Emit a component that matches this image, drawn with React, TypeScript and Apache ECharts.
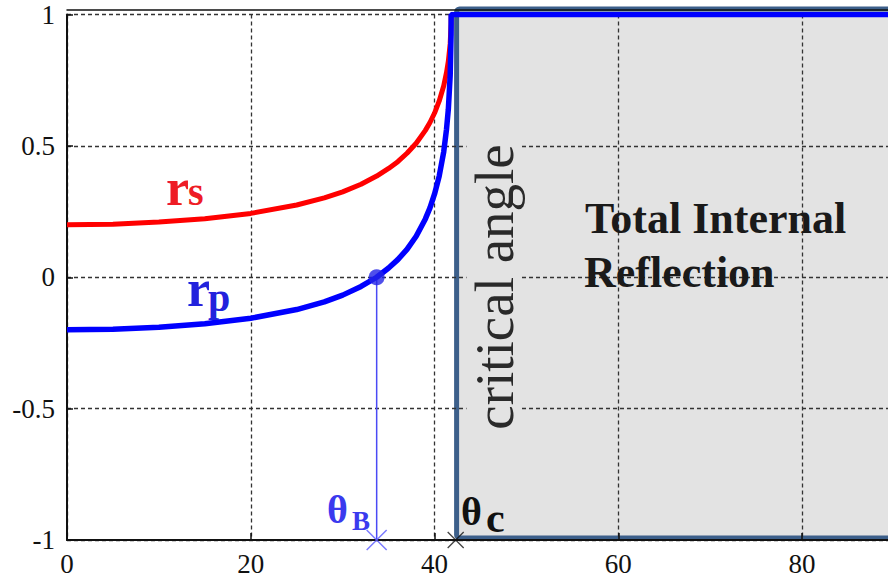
import React, { useEffect, useRef } from "react";
import * as echarts from "echarts";

// incidence angle (deg) sampled along the curves
const thetaVals = [0, 5, 10, 15, 20, 25, 28, 30, 32, 33.7, 35, 36, 37, 38, 39, 39.5, 40, 40.5, 41, 41.3, 41.5, 41.7, 41.8, 41.81];
const rsValues = [0.2, 0.202, 0.21, 0.223, 0.243, 0.275, 0.302, 0.325, 0.354, 0.385, 0.414, 0.44, 0.472, 0.51, 0.559, 0.589, 0.625, 0.67, 0.729, 0.779, 0.822, 0.889, 0.965, 1];
const rpValues = [-0.2, -0.198, -0.19, -0.177, -0.156, -0.123, -0.094, -0.068, -0.035, 0, 0.035, 0.067, 0.106, 0.156, 0.222, 0.264, 0.317, 0.384, 0.478, 0.563, 0.639, 0.767, 0.923, 1];
const rpTailTheta = [90];
const rpTailValues = [1];

const thetaB = 33.7;
const thetaCMark = 42.3;
const tirRegion = [42.4, 1.021, 91, -0.992]; // x0, yTop, x1, yBottom

const xMin = 0, xMax = 90, xInterval = 20;
const yMin = -1, yMax = 1, yInterval = 0.5;

const FONT = "Liberation Serif";

export default function App() {
  const ref = useRef<HTMLDivElement>(null);
  useEffect(() => {
    if (!ref.current) return;
    const chart = echarts.init(ref.current, undefined, { renderer: "svg" });
    const rsData = thetaVals.map((t, i) => [t, rsValues[i]]);
    const rpData = thetaVals.map((t, i) => [t, rpValues[i]]).concat(rpTailTheta.map((t, i) => [t, rpTailValues[i]]));
    const axisLabel = { fontFamily: FONT, fontSize: 27, color: "#111" };
    const option: any = {
      animation: false,
      backgroundColor: "#ffffff",
      grid: { left: 67, top: 14.5, width: 827, height: 525.5, containLabel: false, outerBoundsMode: "none" },
      xAxis: [
        {
          type: "value", min: xMin, max: xMax, interval: xInterval,
          axisLine: { show: true, onZero: false, lineStyle: { color: "#111", width: 2 } },
          axisTick: { show: true, inside: true, length: 7, lineStyle: { color: "#111", width: 1.5 } },
          axisLabel: { ...axisLabel, margin: 10, showMaxLabel: false },
          splitLine: { show: true, lineStyle: { color: "#333", width: 1.3, type: [4, 3] } },
        },
        {
          type: "value", min: xMin, max: xMax, position: "top", offset: 4.5,
          axisLine: { show: true, onZero: false, lineStyle: { color: "#111", width: 1.5 } },
          axisTick: { show: false }, axisLabel: { show: false }, splitLine: { show: false },
        },
      ],
      yAxis: {
        type: "value", min: yMin, max: yMax, interval: yInterval,
        axisLine: { show: true, onZero: false, lineStyle: { color: "#111", width: 2 } },
        axisTick: { show: true, inside: true, length: 6, lineStyle: { color: "#111", width: 1.5 } },
        axisLabel: { ...axisLabel, margin: 12 },
        splitLine: { show: true, lineStyle: { color: "#333", width: 1.3, type: [4, 3] } },
      },
      series: [
        {
          type: "custom",
          z: -1,
          clip: false,
          silent: true,
          renderItem: (params: any, api: any) => {
            const p1 = api.coord([api.value(0), api.value(1)]);
            const p2 = api.coord([api.value(2), api.value(3)]);
            return {
              type: "rect",
              shape: { x: p1[0], y: p1[1], width: p2[0] - p1[0], height: p2[1] - p1[1], r: 3 },
              style: { fill: "#e3e3e3", stroke: "#3c5f8a", lineWidth: 5 },
            };
          },
          data: [tirRegion],
        },
        {
          type: "line", data: [[thetaB, 0], [thetaB, yMin]], showSymbol: false,
          lineStyle: { color: "#4a4af5", width: 1.5 }, z: 3,
        },
        {
          type: "line", data: rsData, showSymbol: false, smooth: false,
          lineStyle: { color: "#ff0000", width: 5 }, z: 4,
        },
        {
          type: "line", data: rpData, showSymbol: false, smooth: false,
          lineStyle: { color: "#0000ff", width: 5.5 }, z: 5,
        },
        {
          type: "scatter", data: [[thetaB, 0]], symbol: "circle", symbolSize: 16,
          itemStyle: { color: "#2424e6" }, z: 6,
        },
        {
          type: "scatter", data: [[thetaB, yMin]], symbol: "path://M0,0L10,10M10,0L0,10", symbolSize: 20,
          itemStyle: { color: "none", borderColor: "#5a5aff", borderWidth: 1.5 }, z: 6,
        },
        {
          type: "scatter", data: [[thetaCMark, yMin]], symbol: "path://M0,0L10,10M10,0L0,10", symbolSize: 16,
          itemStyle: { color: "none", borderColor: "#111", borderWidth: 1.3 }, z: 1, clip: false,
        },
      ],
      graphic: [
        { type: "text", x: 166, y: 187, z: 20, style: { text: "r", fontFamily: FONT, fontSize: 52, fontWeight: "bold", fill: "#ee1c25", align: "left", verticalAlign: "middle" } },
        { type: "text", x: 188, y: 191, z: 20, style: { text: "s", fontFamily: FONT, fontSize: 40, fontWeight: "bold", fill: "#ee1c25", align: "left", verticalAlign: "middle" } },
        { type: "text", x: 187, y: 288, z: 20, style: { text: "r", fontFamily: FONT, fontSize: 52, fontWeight: "bold", fill: "#2222dd", align: "left", verticalAlign: "middle" } },
        { type: "text", x: 208, y: 297, z: 20, style: { text: "p", fontFamily: FONT, fontSize: 40, fontWeight: "bold", fill: "#2222dd", align: "left", verticalAlign: "middle" } },
        { type: "text", x: 327, y: 509, z: 20, style: { text: "θ", fontFamily: FONT, fontSize: 40, fontWeight: "bold", fill: "#3a3aee", align: "left", verticalAlign: "middle" } },
        { type: "text", x: 352, y: 521, z: 20, style: { text: "B", fontFamily: FONT, fontSize: 27, fontWeight: "bold", fill: "#3a3aee", align: "left", verticalAlign: "middle" } },
        { type: "text", x: 461, y: 511, z: 20, style: { text: "θ", fontFamily: FONT, fontSize: 40, fontWeight: "bold", fill: "#111", align: "left", verticalAlign: "middle" } },
        { type: "text", x: 486, y: 518, z: 20, style: { text: "c", fontFamily: FONT, fontSize: 42, fontWeight: "bold", fill: "#111", align: "left", verticalAlign: "middle" } },
        { type: "text", x: 494, y: 287, z: 20, rotation: Math.PI / 2, style: { text: "critical angle", fontFamily: FONT, fontSize: 55, fill: "#2a2a2a", align: "center", verticalAlign: "middle", backgroundColor: "#e3e3e3", padding: [0, 10] } },
        { type: "text", x: 585, y: 218, z: 20, style: { text: "Total Internal", fontFamily: FONT, fontSize: 44, fontWeight: "bold", fill: "#1a1a1a", align: "left", verticalAlign: "middle" } },
        { type: "text", x: 584, y: 272, z: 20, style: { text: "Reflection", fontFamily: FONT, fontSize: 44, fontWeight: "bold", fill: "#1a1a1a", align: "left", verticalAlign: "middle" } },
      ],
    };
    chart.setOption(option);
    return () => chart.dispose();
  }, []);
  return <div ref={ref} style={{ position: "fixed", left: 0, top: 0, width: 888, height: 581 }} />;
}
